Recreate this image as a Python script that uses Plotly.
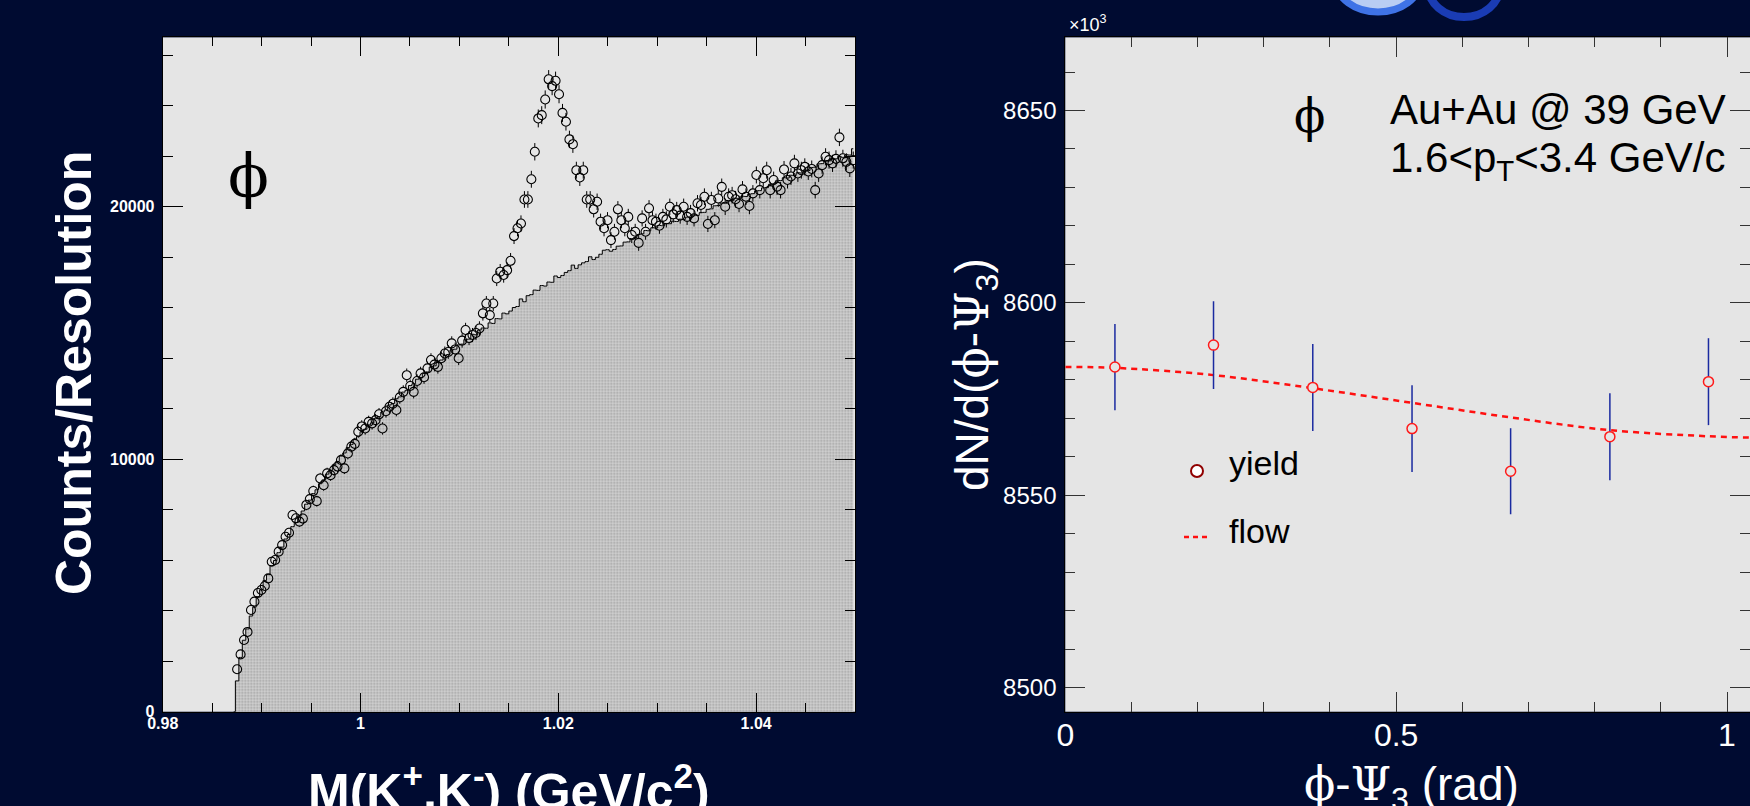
import plotly.graph_objects as go

W, H = 1750, 806
NAVY = '#000b31'
PLOT_BG = '#e5e5e5'

# ---------------- Left panel: K+K- invariant mass ----------------
MASS_BIN_WIDTH = 0.00035
MASS_FIRST_BG_CENTER = 0.987175     # first (empty) bin below threshold
MASS_FIRST_DATA_CENTER = 0.987525   # first bin above 2 m_K

mixed_bg_counts = [
    0, 1220, 2150, 2830, 3280, 3790, 4140, 4560, 4830, 5200,
    5430, 5790, 5990, 6300, 6520, 6840, 7020, 7330, 7500, 7760,
    7950, 8220, 8380, 8640, 8790, 9030, 9180, 9410, 9560, 9780,
    9910, 10130, 10250, 10460, 10590, 10800, 10910, 11090, 11190, 11360,
    11440, 11620, 11690, 11870, 11950, 12150, 12210, 12400, 12470, 12660,
    12730, 12920, 12990, 13170, 13220, 13400, 13460, 13650, 13700, 13880,
    13930, 14110, 14150, 14330, 14360, 14530, 14560, 14740, 14760, 14950,
    14930, 15120, 15200, 15190, 15400, 15380, 15570, 15560, 15790, 15760,
    15870, 16010, 16050, 16350, 16240, 16480, 16520, 16700, 16690, 16880,
    16860, 17020, 17010, 17260, 17200, 17280, 17400, 17470, 17690, 17560,
    17700, 17780, 17830, 18020, 17910, 18000, 18120, 18280, 18300, 18240,
    18310, 18440, 18450, 18600, 18610, 18740, 18780, 18900, 18930, 19060,
    19050, 19170, 19160, 19260, 19250, 19340, 19330, 19430, 19420, 19510,
    19500, 19590, 19580, 19670, 19660, 19770, 19780, 19900, 19920, 20040,
    20050, 20150, 20140, 20250, 20240, 20340, 20320, 20420, 20410, 20500,
    20520, 20630, 20640, 20750, 20760, 20890, 20900, 21030, 21040, 21150,
    21140, 21250, 21240, 21350, 21340, 21450, 21440, 21560, 21570, 21700,
    21710, 21830, 21820, 21920, 21900, 22000, 21960, 22060, 22050, 22300,
]

same_event_counts = [
    1680, 2270, 2840, 3160, 4030, 4360, 4700, 4820, 4980, 5280,
    5940, 6010, 6340, 6600, 6930, 7090, 7790, 7660, 7530, 7650,
    8190, 8420, 8740, 8340, 9240, 8970, 9440, 9370, 9570, 9710,
    9970, 9640, 10230, 10500, 10610, 11090, 11300, 11220, 11480, 11420,
    11550, 11780, 11220, 11900, 12080, 12200, 11950, 12450, 12670, 13330,
    12900, 12670, 13100, 13400, 13250, 13600, 13930, 13750, 13660, 14000,
    14190, 14250, 14590, 14350, 14000, 14700, 15120, 14800, 14920, 15000,
    15180, 15780, 16170, 15710, 16170, 17160, 17430, 17300, 17490, 17860,
    18840, 19150, 19340, 20290, 20290, 21090, 22180, 23500, 23630, 24250,
    25050, 24780, 24990, 24460, 23720, 23370, 22670, 22480, 21450, 21160,
    21450, 20290, 20290, 19900, 20200, 19410, 19150, 19470, 18680, 19010,
    19900, 19470, 19150, 19600, 18880, 19010, 18570, 19540, 19010, 19940,
    19470, 19410, 19250, 19600, 19500, 20000, 19700, 19870, 19650, 20000,
    19600, 19750, 19540, 20140, 20070, 20400, 19320, 20270, 19470, 20330,
    20790, 20000, 20400, 20460, 20300, 20110, 20690, 20400, 20030, 20530,
    21260, 20660, 21130, 21450, 20660, 21060, 20800, 20660, 21480, 21060,
    21200, 21720, 21320, 21450, 21580, 21400, 21500, 20660, 21320, 21650,
    21980, 21850, 21720, 21900, 22750, 21920, 21780, 21520, 21850,
]

same_event_err = [
    95, 110, 120, 130, 145, 150, 160, 160, 160, 170,
    180, 180, 185, 185, 190, 195, 205, 200, 200, 200,
    210, 210, 215, 210, 220, 220, 225, 225, 225, 225,
    230, 225, 235, 235, 240, 240, 245, 245, 245, 245,
    245, 250, 245, 250, 255, 255, 250, 255, 260, 265,
    260, 260, 265, 265, 265, 270, 270, 270, 270, 270,
    275, 275, 280, 275, 270, 280, 285, 280, 280, 280,
    285, 290, 295, 290, 295, 300, 305, 305, 305, 310,
    315, 320, 320, 330, 330, 335, 345, 355, 355, 360,
    365, 360, 365, 360, 355, 350, 345, 345, 335, 335,
    335, 330, 330, 325, 325, 320, 320, 320, 315, 315,
    325, 320, 320, 320, 315, 315, 315, 320, 315, 325,
    320, 320, 320, 320, 320, 325, 325, 325, 320, 325,
    320, 325, 320, 325, 325, 330, 320, 325, 320, 330,
    330, 325, 330, 330, 330, 325, 330, 330, 325, 330,
    335, 330, 335, 335, 330, 335, 330, 330, 335, 335,
    335, 340, 335, 335, 340, 335, 335, 330, 335, 340,
    340, 340, 340, 340, 345, 340, 340, 340, 340,
]

mass_tick_vals = [0.98, 1.0, 1.02, 1.04]
mass_tick_text = ['0.98', '1', '1.02', '1.04']
count_tick_vals = [0, 10000, 20000]
count_tick_text = ['0', '10000', '20000']

# ---------------- Right panel: phi - Psi_3 (units of 10^3) ----------------
dphi_centers = [0.075, 0.224, 0.374, 0.524, 0.673, 0.823, 0.972]
yield_vals = [8583.3, 8589.0, 8578.0, 8567.3, 8556.2, 8565.2, 8579.5]
yield_err = [11.2, 11.4, 11.3, 11.3, 11.2, 11.3, 11.3]
flow_x = [0.0, 0.075, 0.224, 0.374, 0.524, 0.673, 0.823, 0.972, 1.047]
flow_y = [8583.3, 8583.1, 8581.2, 8577.8, 8574.0, 8570.2, 8566.9, 8565.3, 8564.9]
dphi_tick_vals = [0, 0.5, 1]
dphi_tick_text = ['0', '0.5', '1']
dndphi_tick_vals = [8500, 8550, 8600, 8650]

# ---------------- geometry (pixels) ----------------
L_X0, L_X1 = 162.7, 855.0
R_X0 = 1065.3
R_PX_PER_UNIT = 661.7
P_TOP, P_BOT = 37.4, 711.7


def fx(px):
    return px / W


def fy(py):
    return 1 - py / H


L_XRANGE = [0.98, 1.05]
L_YRANGE = [0, 26710]
R_XRANGE = [0, (W - R_X0) / R_PX_PER_UNIT]
R_YRANGE = [8493.7, 8669.0]

MARKER_D = 9
# marker radius in data units, so error bars start at the circle edge
r_data = (MARKER_D / 2) * (L_YRANGE[1] - L_YRANGE[0]) / (P_BOT - P_TOP)
up_base = [v + r_data for v in same_event_counts]
dn_base = [v - r_data for v in same_event_counts]
bar_len = [max(e - r_data, 0) for e in same_event_err]

fig = go.Figure()

# mixed-event background histogram (step line with dotted fill)
fig.add_trace(go.Scatter(
    x0=MASS_FIRST_BG_CENTER, dx=MASS_BIN_WIDTH, y=mixed_bg_counts,
    mode='lines', line=dict(color='black', width=1, shape='hvh'),
    fill='tozeroy', fillcolor='#cccccc',
    fillpattern=dict(shape='.', fgcolor='#6e6e6e', bgcolor='#d2d2d2',
                     size=3, solidity=0.4),
    xaxis='x', yaxis='y', showlegend=False, hoverinfo='skip'))

# same-event error bars (outside of the circles)
fig.add_trace(go.Scatter(
    x0=MASS_FIRST_DATA_CENTER, dx=MASS_BIN_WIDTH, y=up_base, mode='markers',
    marker=dict(size=1, color='rgba(0,0,0,0)'),
    error_y=dict(type='data', symmetric=False, array=bar_len,
                 arrayminus=[0] * len(bar_len), color='black',
                 thickness=1, width=0),
    xaxis='x', yaxis='y', showlegend=False, hoverinfo='skip'))
fig.add_trace(go.Scatter(
    x0=MASS_FIRST_DATA_CENTER, dx=MASS_BIN_WIDTH, y=dn_base, mode='markers',
    marker=dict(size=1, color='rgba(0,0,0,0)'),
    error_y=dict(type='data', symmetric=False, array=[0] * len(bar_len),
                 arrayminus=bar_len, color='black', thickness=1, width=0),
    xaxis='x', yaxis='y', showlegend=False, hoverinfo='skip'))

fig.add_trace(go.Scatter(
    x0=MASS_FIRST_DATA_CENTER, dx=MASS_BIN_WIDTH, y=same_event_counts,
    mode='markers',
    marker=dict(symbol='circle-open', size=MARKER_D, color='black',
                line=dict(width=1.1, color='black')),
    xaxis='x', yaxis='y', showlegend=False))

# right panel: flow fit + yield
fig.add_trace(go.Scatter(
    x=flow_x, y=flow_y, mode='lines',
    line=dict(color='#ff1010', width=2.5, dash='6px,5px', shape='spline'),
    xaxis='x2', yaxis='y2', showlegend=False, hoverinfo='skip'))
fig.add_trace(go.Scatter(
    x=dphi_centers, y=yield_vals, mode='markers',
    marker=dict(symbol='circle', size=10, color=PLOT_BG,
                line=dict(width=1.5, color='#ff1a1a')),
    error_y=dict(type='data', array=yield_err, color='#1a2aa0',
                 thickness=1.5, width=0),
    xaxis='x2', yaxis='y2', showlegend=False))

LBL_BOLD = dict(family='Liberation Sans, Arial', size=16, color='white',
                weight='bold')
LBL_R_Y = dict(family='Liberation Sans, Arial', size=24, color='white')
LBL_R_X = dict(family='Liberation Sans, Arial', size=32, color='white')

common_axis = dict(showgrid=False, zeroline=False, showline=True,
                   linecolor='black', linewidth=1, ticks='inside',
                   tickcolor='black', tickwidth=1, mirror='ticks',
                   tickmode='array', automargin=False)

fig.update_layout(
    width=W, height=H, autosize=False,
    margin=dict(l=0, r=0, t=0, b=0, pad=0, autoexpand=False),
    paper_bgcolor=NAVY, plot_bgcolor=PLOT_BG,
    showlegend=False,
    xaxis=dict(common_axis, domain=[fx(L_X0), fx(L_X1)], range=L_XRANGE,
               anchor='y', tickvals=mass_tick_vals, ticktext=mass_tick_text,
               ticklen=19, tickfont=LBL_BOLD, ticklabelstandoff=-3,
               minor=dict(ticks='inside', tickmode='linear', tick0=0.98,
                          dtick=0.005, ticklen=9, tickcolor='black',
                          showgrid=False)),
    yaxis=dict(common_axis, domain=[fy(P_BOT), fy(P_TOP)], range=L_YRANGE,
               anchor='x', tickvals=count_tick_vals, ticktext=count_tick_text,
               ticklen=20, tickfont=LBL_BOLD, ticklabelstandoff=4,
               minor=dict(ticks='inside', tickmode='linear', tick0=0,
                          dtick=2000, ticklen=10, tickcolor='black',
                          showgrid=False)),
    xaxis2=dict(common_axis, domain=[fx(R_X0), 1.0], range=R_XRANGE,
                anchor='y2', tickvals=dphi_tick_vals, ticktext=dphi_tick_text,
                ticklen=20, tickfont=LBL_R_X, ticklabelstandoff=-5,
                tickcolor='#333',
                minor=dict(ticks='inside', tickmode='linear', tick0=0,
                           dtick=0.1, ticklen=10, tickcolor='#333',
                           showgrid=False)),
    yaxis2=dict(common_axis, domain=[fy(P_BOT), fy(P_TOP)], range=R_YRANGE,
                anchor='x2', tickvals=dndphi_tick_vals,
                ticklen=20, tickfont=LBL_R_Y, ticklabelstandoff=3,
                tickcolor='#333',
                minor=dict(ticks='inside', tickmode='linear', tick0=8500,
                           dtick=10, ticklen=10, tickcolor='#333',
                           showgrid=False)),
)

SERIF = 'font-family:DejaVu Serif'
ann = []


def add_text(text, px, py, size, color='white', xanchor='center',
             yanchor='middle', angle=0, family='Liberation Sans, Arial',
             weight='normal'):
    ann.append(dict(text=text, x=fx(px), y=fy(py), xref='paper', yref='paper',
                    xanchor=xanchor, yanchor=yanchor, showarrow=False,
                    textangle=angle,
                    font=dict(size=size, color=color, family=family,
                              weight=weight)))


# left panel titles
add_text('Counts/Resolution', 74, 373, 50, angle=-90, weight='bold')
add_text('M(K<sup>+</sup>,K<sup>-</sup>) (GeV/c<sup>2</sup>)', 509, 788, 50,
         weight='bold')
add_text('\u03d5', 248, 176, 60, color='black', family='DejaVu Serif')

# right panel titles
add_text('dN/d(<span style="%s">\u03d5</span>-<span style="%s">\u03a8</span>'
         '<sub>3</sub>)' % (SERIF, SERIF), 975, 375, 46, angle=-90)
add_text('<span style="%s">\u03d5</span>-<span style="%s">\u03a8</span>'
         '<sub>3</sub> (rad)' % (SERIF, SERIF), 1411, 787, 46)
add_text('\u00d710<sup>3</sup>', 1088, 24, 18)
add_text('\u03d5', 1309, 116, 46, color='black', family='DejaVu Serif')
add_text('Au+Au @ 39 GeV', 1388, 109, 42, color='black', xanchor='left')
add_text('1.6&lt;p<sub>T</sub>&lt;3.4 GeV/c', 1388, 160, 42, color='black',
         xanchor='left')
# legend
add_text('yield', 1227, 463, 34, color='black', xanchor='left')
add_text('flow', 1227, 531, 34, color='black', xanchor='left')

fig.update_layout(annotations=ann)

shapes = [
    # legend samples
    dict(type='circle', xref='paper', yref='paper',
         x0=fx(1191), x1=fx(1203), y0=fy(477), y1=fy(465),
         line=dict(color='#900000', width=2), fillcolor='white'),
    dict(type='line', xref='paper', yref='paper',
         x0=fx(1184), x1=fx(1209), y0=fy(537), y1=fy(537),
         line=dict(color='#ff1010', width=2.5, dash='5px,4px')),
    # partial logo at top
    dict(type='circle', xref='paper', yref='paper',
         x0=fx(1336), x1=fx(1420), y0=fy(12), y1=fy(-50),
         line=dict(color='#3f73e6', width=7), fillcolor='#b9cdf3', layer='above'),
    dict(type='circle', xref='paper', yref='paper',
         x0=fx(1428), x1=fx(1500), y0=fy(17), y1=fy(-45),
         line=dict(color='#1a3cb4', width=8), fillcolor=NAVY, layer='above'),
]
fig.update_layout(shapes=shapes)

fig.write_html('out.html')
